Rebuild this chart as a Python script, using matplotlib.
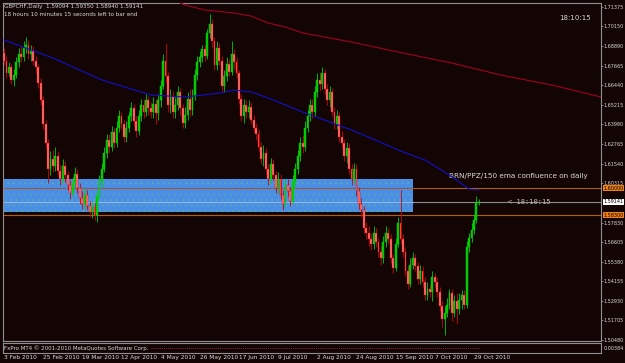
import numpy as np
import matplotlib.pyplot as plt
from matplotlib.patches import Rectangle

# etiquetas del eje de fechas (una cada 16 velas)
date_labels = ['3 Feb 2010', '25 Feb 2010', '19 Mar 2010', '12 Apr 2010', '4 May 2010',
               '26 May 2010', '17 Jun 2010', '9 Jul 2010', '2 Aug 2010', '24 Aug 2010',
               '15 Sep 2010', '7 Oct 2010', '29 Oct 2010']
label_step = 16

# velas diarias GBPCHF
first_open = 1.6850
closes = [
    1.6800, 1.6720, 1.6760, 1.6680, 1.6710, 1.6790, 1.6840, 1.6820, 1.6880, 1.6900,
    1.6840, 1.6860, 1.6800, 1.6760, 1.6660, 1.6550, 1.6400, 1.6280, 1.6120, 1.6180,
    1.6140, 1.6200, 1.6110, 1.6060, 1.6140, 1.6080, 1.6020, 1.5970, 1.6030, 1.6090,
    1.6000, 1.5940, 1.5900, 1.5960, 1.5890, 1.5850, 1.5880, 1.5830, 1.5950, 1.6040,
    1.6120, 1.6220, 1.6300, 1.6260, 1.6350, 1.6280, 1.6380, 1.6450, 1.6400, 1.6320,
    1.6380, 1.6450, 1.6500, 1.6420, 1.6360, 1.6450, 1.6520, 1.6480, 1.6550, 1.6500,
    1.6480, 1.6530, 1.6470, 1.6550, 1.6640, 1.6800, 1.6700, 1.6520, 1.6580, 1.6480,
    1.6520, 1.6600, 1.6500, 1.6410, 1.6460, 1.6560, 1.6490, 1.6580, 1.6710, 1.6790,
    1.6820, 1.6870, 1.6830, 1.6970, 1.7030, 1.6920, 1.6770, 1.6880, 1.6800, 1.6640,
    1.6700, 1.6780, 1.6730, 1.6840, 1.6790, 1.6720, 1.6560, 1.6450, 1.6520, 1.6480,
    1.6510, 1.6430, 1.6380, 1.6340, 1.6260, 1.6180, 1.6220, 1.6120, 1.6060, 1.6150,
    1.6080, 1.6000, 1.6060, 1.5960, 1.5900, 1.6020, 1.5980, 1.5920, 1.6040, 1.6120,
    1.6200, 1.6280, 1.6260, 1.6380, 1.6450, 1.6520, 1.6480, 1.6600, 1.6680, 1.6650,
    1.6720, 1.6620, 1.6550, 1.6600, 1.6480, 1.6400, 1.6450, 1.6320, 1.6280, 1.6200,
    1.6250, 1.6120, 1.6060, 1.6120, 1.5980, 1.5900, 1.5860, 1.5750, 1.5720, 1.5680,
    1.5650, 1.5720, 1.5660, 1.5600, 1.5560, 1.5660, 1.5720, 1.5680, 1.5560, 1.5500,
    1.5650, 1.5780, 1.5680, 1.5600, 1.5480, 1.5400, 1.5520, 1.5560, 1.5510, 1.5430,
    1.5480, 1.5410, 1.5330, 1.5370, 1.5350, 1.5440, 1.5410, 1.5350, 1.5260, 1.5180,
    1.5220, 1.5270, 1.5340, 1.5220, 1.5290, 1.5240, 1.5300, 1.5330, 1.5270, 1.5630,
    1.5690, 1.5740, 1.5800, 1.5909, 1.59141]
highs = [
    1.6880, 1.6830, 1.6790, 1.6780, 1.6750, 1.6820, 1.6880, 1.6890, 1.6920, 1.6950,
    1.6930, 1.6900, 1.6890, 1.6830, 1.6780, 1.6690, 1.6580, 1.6430, 1.6310, 1.6230,
    1.6240, 1.6260, 1.6230, 1.6150, 1.6180, 1.6170, 1.6110, 1.6050, 1.6070, 1.6130,
    1.6120, 1.6030, 1.5980, 1.6000, 1.5990, 1.5920, 1.5920, 1.5910, 1.5980, 1.6080,
    1.6160, 1.6260, 1.6340, 1.6340, 1.6390, 1.6380, 1.6420, 1.6490, 1.6480, 1.6430,
    1.6420, 1.6480, 1.6540, 1.6530, 1.6450, 1.6490, 1.6560, 1.6550, 1.6590, 1.6580,
    1.6540, 1.6570, 1.6560, 1.6590, 1.6680, 1.6840, 1.6910, 1.6730, 1.6620, 1.6610,
    1.6570, 1.6640, 1.6630, 1.6530, 1.6510, 1.6600, 1.6620, 1.6620, 1.6750, 1.6830,
    1.6860, 1.6900, 1.6900, 1.7000, 1.7090, 1.7060, 1.6950, 1.6920, 1.6910, 1.6830,
    1.6740, 1.6820, 1.6810, 1.6920, 1.6870, 1.6820, 1.6740, 1.6590, 1.6560, 1.6550,
    1.6550, 1.6540, 1.6460, 1.6410, 1.6370, 1.6290, 1.6270, 1.6250, 1.6150, 1.6190,
    1.6180, 1.6110, 1.6100, 1.6090, 1.5990, 1.6060, 1.6060, 1.6010, 1.6080, 1.6160,
    1.6240, 1.6320, 1.6330, 1.6420, 1.6490, 1.6560, 1.6560, 1.6640, 1.6720, 1.6720,
    1.6760, 1.6750, 1.6650, 1.6640, 1.6630, 1.6510, 1.6490, 1.6480, 1.6360, 1.6310,
    1.6290, 1.6280, 1.6150, 1.6160, 1.6150, 1.6010, 1.5940, 1.5890, 1.5790, 1.5760,
    1.5720, 1.5760, 1.5750, 1.5690, 1.5640, 1.5700, 1.5760, 1.5750, 1.5710, 1.5590,
    1.5690, 1.5820, 1.5990, 1.5710, 1.5630, 1.5510, 1.5560, 1.5600, 1.5590, 1.5540,
    1.5520, 1.5510, 1.5440, 1.5410, 1.5400, 1.5480, 1.5470, 1.5440, 1.5380, 1.5290,
    1.5260, 1.5310, 1.5370, 1.5370, 1.5330, 1.5340, 1.5340, 1.5360, 1.5360, 1.5670,
    1.5720, 1.5780, 1.5840, 1.5950, 1.5935]
lows = [
    1.6770, 1.6690, 1.6700, 1.6650, 1.6640, 1.6690, 1.6760, 1.6790, 1.6800, 1.6850,
    1.6810, 1.6800, 1.6770, 1.6720, 1.6630, 1.6520, 1.6370, 1.6250, 1.6030, 1.6080,
    1.6100, 1.6110, 1.6080, 1.6020, 1.6030, 1.6040, 1.5990, 1.5930, 1.5950, 1.6000,
    1.5970, 1.5900, 1.5870, 1.5870, 1.5860, 1.5820, 1.5810, 1.5800, 1.5790, 1.5930,
    1.6010, 1.6100, 1.6190, 1.6220, 1.6230, 1.6250, 1.6260, 1.6350, 1.6370, 1.6290,
    1.6290, 1.6350, 1.6420, 1.6390, 1.6320, 1.6330, 1.6420, 1.6440, 1.6450, 1.6460,
    1.6440, 1.6440, 1.6400, 1.6430, 1.6510, 1.6620, 1.6660, 1.6480, 1.6470, 1.6440,
    1.6440, 1.6490, 1.6460, 1.6380, 1.6380, 1.6430, 1.6450, 1.6460, 1.6550, 1.6680,
    1.6760, 1.6790, 1.6800, 1.6810, 1.6940, 1.6880, 1.6740, 1.6740, 1.6770, 1.6610,
    1.6600, 1.6670, 1.6700, 1.6710, 1.6750, 1.6690, 1.6530, 1.6420, 1.6410, 1.6440,
    1.6440, 1.6400, 1.6350, 1.6300, 1.6230, 1.6150, 1.6140, 1.6090, 1.6020, 1.6030,
    1.6050, 1.5970, 1.5970, 1.5930, 1.5860, 1.5880, 1.5950, 1.5890, 1.5900, 1.6010,
    1.6090, 1.6170, 1.6220, 1.6230, 1.6350, 1.6420, 1.6440, 1.6450, 1.6570, 1.6610,
    1.6620, 1.6590, 1.6520, 1.6510, 1.6450, 1.6370, 1.6370, 1.6290, 1.6250, 1.6170,
    1.6160, 1.6090, 1.6020, 1.6030, 1.5950, 1.5870, 1.5820, 1.5720, 1.5680, 1.5640,
    1.5610, 1.5620, 1.5630, 1.5570, 1.5520, 1.5530, 1.5630, 1.5650, 1.5530, 1.5470,
    1.5480, 1.5630, 1.5650, 1.5570, 1.5450, 1.5370, 1.5380, 1.5490, 1.5480, 1.5400,
    1.5400, 1.5380, 1.5300, 1.5300, 1.5320, 1.5290, 1.5380, 1.5320, 1.5230, 1.5130,
    1.5080, 1.5190, 1.5240, 1.5170, 1.5190, 1.5150, 1.5210, 1.5240, 1.5240, 1.5250,
    1.5600, 1.5660, 1.5710, 1.5780, 1.5894]
opens = [first_open] + closes[:-1]

# medias moviles (puntos leidos: indice de vela, precio)
ema_idx = [0, 20, 40, 60, 74, 88, 94, 101, 108, 115, 122, 142, 163, 172, 182, 190, 194]
ema_val = [1.6929, 1.6816, 1.6678, 1.6584, 1.6571, 1.6596, 1.6615, 1.6603, 1.6565,
           1.6521, 1.6477, 1.6365, 1.6227, 1.6176, 1.6082, 1.5994, 1.5988]
sma_idx = [69, 74, 82, 94, 101, 108, 115, 122, 142, 163, 183, 203, 224, 244]
sma_val = [1.7180, 1.7148, 1.7117, 1.7098, 1.7079, 1.7035, 1.7010, 1.6973, 1.6916,
           1.6847, 1.6784, 1.6709, 1.6646, 1.6571]

# niveles
zone_top, zone_bottom, zone_end = 1.6057, 1.5850, 167
level_hi, level_lo = 1.6000, 1.5830
bid = 1.59141
price_ticks = [1.71375, 1.70150, 1.68890, 1.67665, 1.66440, 1.65215, 1.63990, 1.62765,
               1.61540, 1.60315, 1.57830, 1.56605, 1.55380, 1.54155, 1.52930, 1.51705, 1.50480]

bg = '#140505'
fg = '#d8d8d8'
W, H = 625, 363
plt.rcParams['hatch.linewidth'] = 0.4

fig = plt.figure(figsize=(W / 100, H / 100), dpi=100, facecolor=bg)
ax = fig.add_axes([3 / W, (H - 341) / H, 598 / W, 338 / H], facecolor=bg)
ax.set_xlim(-0.4, 243.9)
ax.set_ylim(1.50416, 1.71607)

x = np.arange(len(closes))
o = np.array(opens)
c = np.array(closes)
up = c >= o

# zona azul
ax.add_patch(Rectangle((-0.4, zone_bottom), zone_end + 0.4, zone_top - zone_bottom,
                       facecolor='#4a8ee6', edgecolor='#58b890', hatch='...',
                       lw=0, zorder=1))

# lineas horizontales
ax.axhline(level_hi, color='#b0600a', lw=0.8, zorder=2)
ax.axhline(level_lo, color='#b0600a', lw=0.8, zorder=2)
ax.axhline(bid, color='#8a8a8a', lw=0.8, zorder=2)
ax.plot([-0.4, zone_end], [level_hi, level_hi], color='#8040c0', lw=0.8, ls=(0, (1, 2)), zorder=2)
ax.plot([-0.4, zone_end], [bid, bid], color='#90b8f0', lw=0.8, zorder=2)

# velas
ax.vlines(x[up], np.array(lows)[up], np.array(highs)[up], color='#00d000', lw=0.6, zorder=3)
ax.vlines(x[~up], np.array(lows)[~up], np.array(highs)[~up], color='#d00000', lw=0.6, zorder=3)
ax.bar(x[up], (c - o)[up], bottom=o[up], width=0.75, color='#00c800',
       edgecolor='#00e000', lw=0.3, zorder=4)
ax.bar(x[~up], (c - o)[~up], bottom=o[~up], width=0.75, color='#ff7878',
       edgecolor='#e00000', lw=0.3, zorder=4)

# medias
ax.plot(ema_idx, ema_val, color='#1010c8', lw=0.8, zorder=5)
ax.plot(sma_idx, sma_val, color='#a00020', lw=0.8, zorder=5)

# eje de precios a la derecha
ax.yaxis.tick_right()
ax.set_yticks(price_ticks)
ax.set_yticklabels([f'{v:.5f}' for v in price_ticks])
ax.tick_params(axis='y', length=1.5, width=0.6, colors='#909090', labelsize=3.5, pad=0.3,
               labelcolor=fg)
ax.set_xticks([])
for s in ax.spines.values():
    s.set_color('#909090')
    s.set_linewidth(0.8)

# etiquetas de precio
tag = dict(transform=ax.get_yaxis_transform(), fontsize=3.5, color='#000000',
           va='center', ha='left', zorder=6)
ax.text(1.0045, level_hi, '1.60000', bbox=dict(boxstyle='square,pad=0.1', fc='#f08010', ec='none'), **tag)
ax.text(1.0045, level_lo, '1.58300', bbox=dict(boxstyle='square,pad=0.1', fc='#f08010', ec='none'), **tag)
ax.text(1.0045, bid, '1.59141', bbox=dict(boxstyle='square,pad=0.1', fc='#ffffff', ec='none'), **tag)

# textos
ax.text(0.002, 0.997, 'GBPCHF,Daily  1.59094 1.59350 1.58940 1.59141',
        transform=ax.transAxes, fontsize=4.1, color=fg, va='top', ha='left')
ax.text(0.002, 0.974, '18 hours 10 minutes 15 seconds left to bar end',
        transform=ax.transAxes, fontsize=4.1, color=fg, va='top', ha='left')
ax.text(227, 1.7067, '18:10:15', fontsize=5.0, color=fg, va='center', ha='left')
ax.text(182, 1.6076, 'BRN/PPZ/150 ema confluence on daily', fontsize=5.2, color=fg,
        va='center', ha='left')
ax.text(206, bid, '< 18:10:15', fontsize=5.0, color='#c0c0c0', va='center', ha='left',
        family='DejaVu Sans Mono')

# subventana inferior
ax2 = fig.add_axes([3 / W, (H - 353) / H, 598 / W, 10 / H], facecolor=bg)
ax2.set_xlim(ax.get_xlim())
ax2.set_ylim(0, 1)
ax2.set_yticks([])
ax2.plot([60, 194], [0.55, 0.55], color='#c03050', lw=0.6, ls=(0, (1, 1.5)))
ax2.text(0.002, 0.5, 'FxPro MT4 \u00a9 2001-2010 MetaQuotes Software Corp.',
         transform=ax2.transAxes, fontsize=4.0, color=fg, va='center', ha='left')
ax2.text(1.004, 0.4, '0.00384', transform=ax2.transAxes, fontsize=3.5, color=fg,
         va='center', ha='left')
for s in ax2.spines.values():
    s.set_color('#909090')
    s.set_linewidth(0.8)
ax2.set_xticks(np.arange(len(date_labels)) * label_step)
ax2.set_xticklabels(date_labels, ha='left')
ax2.tick_params(axis='x', length=0, pad=1.5, labelsize=4.2, labelcolor=fg)

fig.savefig('out.png', dpi=100, facecolor=bg)
